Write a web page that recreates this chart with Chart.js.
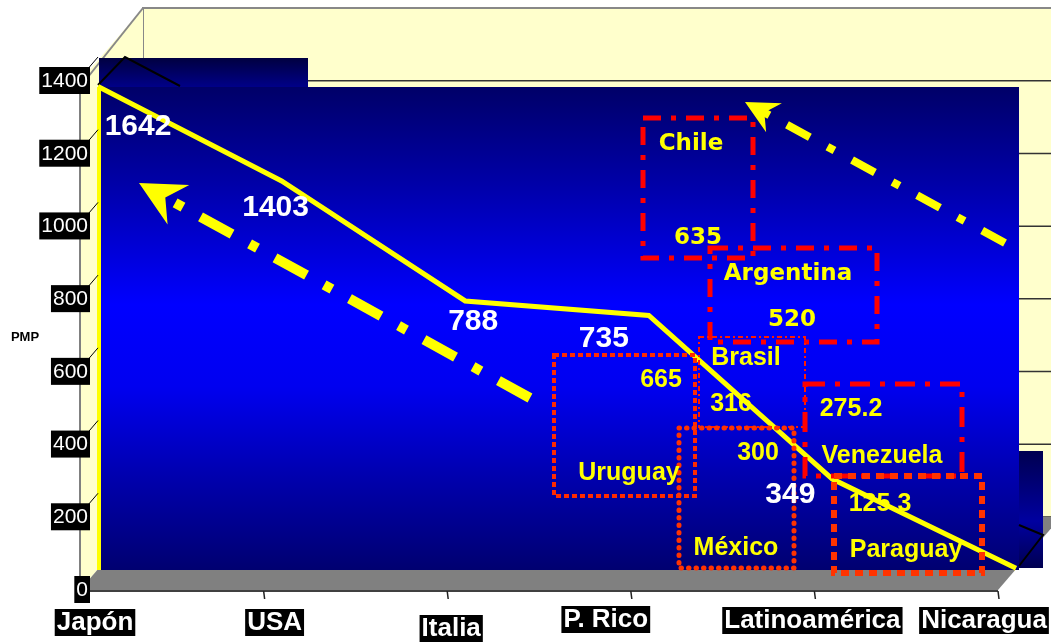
<!DOCTYPE html>
<html>
<head>
<meta charset="utf-8">
<script src="https://cdn.jsdelivr.net/npm/chart.js@4/dist/chart.umd.min.js"></script>
<style>
  body { margin: 0; background: #fff; }
  canvas { display: block; }
</style>
</head>
<body>
<canvas id="chart-pmp" width="1051" height="643"></canvas>
<script>
// data
const categories = ['Japón', 'USA', 'Italia', 'P. Rico', 'Latinoamérica', 'Nicaragua'];
const pmpValues = [1330, 1070, 740, 700, 250, 5];
const pmpLabels = ['1642', '1403', '788', '735', '349', ''];
const yTicks = [0, 200, 400, 600, 800, 1000, 1200, 1400];
const countries = ['Chile', 'Argentina', 'Brasil', 'Uruguay', 'México', 'Venezuela', 'Paraguay'];
const countryValues = ['635', '520', '316', '665', '300', '275.2', '125.3'];

// layout (pixels)
const BACK = { dx: 63, dy: -73 };      // depth of the 3d box
const PLANE = { dx: 18, dy: -20 };     // plane where the line sits
const labelOffsets = [[40, 40], [-6, 27], [8, 21], [-45, 23], [-42, 16], [0, 0]];
const xLabelShift = [15, 11, 4, -25, -2, -14];
const xLabelY = [622, 622, 628, 619, 620, 620];

const TAHOMA = 'bold 23px "DejaVu Sans"';
const ARIAL = 'bold 25px "Liberation Sans", Arial';
const boxes = [
	{ r: [643, 118, 753, 258], w: 5, dash: [18, 10, 5, 10], c: '#ff0000', f: TAHOMA, n: [691, 144], v: [698, 238] },
	{ r: [710, 248, 877, 342], w: 5, dash: [18, 10, 5, 10], c: '#ff0000', f: TAHOMA, n: [788, 274], v: [792, 320] },
	{ r: [699, 337, 805, 427], w: 2, dash: [5, 3, 2, 3], c: '#ff1a00', f: ARIAL, n: [746, 358], v: [731, 404] },
	{ r: [554, 355, 695, 496], w: 4, dash: [5, 3], c: '#ff2a00', f: ARIAL, n: [629, 473], v: [661, 380] },
	{ r: [679, 428, 794, 568], w: 5, dash: [0.5, 7], cap: 'round', c: '#ff3300', f: ARIAL, n: [736, 548], v: [758, 453] },
	{ r: [805, 384, 962, 476], w: 5, dash: [20, 10, 5, 10], c: '#ff0000', f: ARIAL, n: [882, 456], v: [851, 409] },
	{ r: [834, 476, 982, 573], w: 6, dash: [8, 6], c: '#ff3300', f: ARIAL, n: [906, 550], v: [880, 504] },
];
const arrows = [
	{ tail: [530, 398], tip: [139, 183], w: 10, dash: [36, 20, 9, 20], head: 45, notch: 30, half: 22.5 },
	{ tail: [1005, 243], tip: [745, 102], w: 8, dash: [26, 20, 8, 20], head: 33, notch: 22, half: 16.5 },
];

function labelBox(ctx, text, x, y, font, align) {
	ctx.font = font;
	let w = ctx.measureText(text).width;
	let left = align === 'right' ? x - w : x - w / 2;
	ctx.fillStyle = '#000';
	ctx.fillRect(left - 2, y - 13, w + 4, 27);
	ctx.fillStyle = '#fff';
	ctx.textAlign = 'left';
	ctx.textBaseline = 'middle';
	ctx.fillText(text, left, y + 1);
}

function drawArrow(ctx, a) {
	let [tx, ty] = a.tail, [px, py] = a.tip;
	let len = Math.hypot(px - tx, py - ty);
	let ux = (px - tx) / len, uy = (py - ty) / len;
	let nx = -uy, ny = ux;
	ctx.save();
	ctx.strokeStyle = '#ffff00';
	ctx.lineWidth = a.w;
	ctx.setLineDash(a.dash);
	ctx.beginPath();
	ctx.moveTo(tx, ty);
	ctx.lineTo(px - ux * (a.notch - 4), py - uy * (a.notch - 4));
	ctx.stroke();
	ctx.setLineDash([]);
	ctx.fillStyle = '#ffff00';
	ctx.beginPath();
	ctx.moveTo(px, py);
	ctx.lineTo(px - ux * a.head + nx * a.half, py - uy * a.head + ny * a.half);
	ctx.lineTo(px - ux * a.notch, py - uy * a.notch);
	ctx.lineTo(px - ux * a.head - nx * a.half, py - uy * a.head - ny * a.half);
	ctx.closePath();
	ctx.fill();
	ctx.restore();
}

const box3d = {
	id: 'box3d',
	beforeDraw(chart) {
		const ctx = chart.ctx;
		const { left: L, right: R, top: T, bottom: B } = chart.chartArea;
		const y = chart.scales.y, x = chart.scales.x;
		ctx.save();
		ctx.fillStyle = '#fff';
		ctx.fillRect(0, 0, chart.width, chart.height);

		// back wall
		ctx.fillStyle = '#ffffcc';
		ctx.fillRect(L + BACK.dx, T + BACK.dy, R - L, B - T);
		ctx.strokeStyle = '#333';
		ctx.lineWidth = 1.5;
		yTicks.forEach(v => {
			let py = y.getPixelForValue(v) + BACK.dy;
			ctx.beginPath();
			ctx.moveTo(L + BACK.dx, py);
			ctx.lineTo(R + BACK.dx, py);
			ctx.stroke();
		});
		ctx.strokeStyle = '#888';
		ctx.lineWidth = 2;
		ctx.beginPath();
		ctx.moveTo(R + BACK.dx, T + BACK.dy);
		ctx.lineTo(L + BACK.dx, T + BACK.dy);
		ctx.lineTo(L + BACK.dx, B + BACK.dy);
		ctx.stroke();

		// side wall
		ctx.fillStyle = '#ffffcc';
		ctx.beginPath();
		ctx.moveTo(L, B);
		ctx.lineTo(L, T);
		ctx.lineTo(L + BACK.dx, T + BACK.dy);
		ctx.lineTo(L + BACK.dx, B + BACK.dy);
		ctx.closePath();
		ctx.fill();
		ctx.beginPath();
		ctx.moveTo(L, T + 6);
		ctx.lineTo(L + BACK.dx, T + BACK.dy);
		ctx.stroke();

		// floor
		ctx.fillStyle = '#808080';
		ctx.beginPath();
		ctx.moveTo(L, B);
		ctx.lineTo(R, B);
		ctx.lineTo(R + BACK.dx, B + BACK.dy);
		ctx.lineTo(L + BACK.dx, B + BACK.dy);
		ctx.closePath();
		ctx.fill();

		// blue panel
		let bx = L + PLANE.dx - 1, by = T + 6, bw = R + PLANE.dx + 3 - bx, bh = B + PLANE.dy - by;
		let g = ctx.createLinearGradient(0, by, 0, by + bh);
		g.addColorStop(0, '#000068');
		g.addColorStop(0.2, '#0000a8');
		g.addColorStop(0.45, '#0000ff');
		g.addColorStop(0.62, '#0000f0');
		g.addColorStop(0.8, '#0000b0');
		g.addColorStop(1, '#000070');
		ctx.fillStyle = g;
		ctx.fillRect(bx, by, bw, bh);
		let g2 = ctx.createLinearGradient(0, 58, 0, by);
		g2.addColorStop(0, '#000040');
		g2.addColorStop(1, '#000088');
		ctx.fillStyle = g2;
		ctx.fillRect(bx + 2, 58, 209, by - 58);
		let g3 = ctx.createLinearGradient(0, 451, 0, 568);
		g3.addColorStop(0, '#000050');
		g3.addColorStop(0.6, '#0000a0');
		g3.addColorStop(1, '#000050');
		ctx.fillStyle = g3;
		ctx.fillRect(bx + bw, 451, 24, 117);
		ctx.strokeStyle = '#000';
		ctx.lineWidth = 2;
		ctx.beginPath();
		ctx.moveTo(bx + 1, by - 2);
		ctx.lineTo(125, 57);
		ctx.lineTo(180, by - 1);
		ctx.moveTo(bx + bw, 525);
		ctx.lineTo(bx + bw + 24, 535);
		ctx.lineTo(bx + bw, 566);
		ctx.stroke();
		ctx.fillStyle = '#ffff00';
		ctx.fillRect(bx, by, 4, bh);

		// floor front edge + front axis
		ctx.strokeStyle = '#000';
		ctx.lineWidth = 1.5;
		ctx.beginPath();
		ctx.moveTo(L, B + 1);
		ctx.lineTo(R, B + 1);
		ctx.stroke();
		ctx.strokeStyle = '#808080';
		ctx.lineWidth = 2;
		ctx.beginPath();
		ctx.moveTo(L, T);
		ctx.lineTo(L, B + 10);
		ctx.stroke();
		ctx.strokeStyle = '#222';
		ctx.lineWidth = 1.5;
		x.ticks.forEach((t, i) => {
			let px = x.getPixelForTick(i);
			ctx.beginPath();
			ctx.moveTo(px, B + 1);
			ctx.lineTo(px + 1, B + 9);
			ctx.stroke();
		});

		// y axis labels
		yTicks.forEach(v => {
			let py = y.getPixelForValue(v);
			if (v > 0) {
				ctx.strokeStyle = '#000';
				ctx.lineWidth = 1;
				ctx.beginPath();
				ctx.moveTo(L + 6, py - 10);
				ctx.lineTo(L + PLANE.dx, py - 24);
				ctx.stroke();
			}
			labelBox(ctx, String(v), L + 8, py - 1, '21px "Liberation Sans", Arial', 'right');
		});

		// x axis labels
		categories.forEach((c, i) => {
			labelBox(ctx, c, x.getPixelForTick(i) + xLabelShift[i], xLabelY[i], 'bold 26px "Liberation Sans", Arial', 'center');
		});

		ctx.fillStyle = '#000';
		ctx.font = 'bold 13px "Liberation Sans", Arial';
		ctx.textAlign = 'center';
		ctx.textBaseline = 'middle';
		ctx.fillText('PMP', 25, 337);
		ctx.restore();
	},
	beforeDatasetsDraw(chart) {
		chart.ctx.save();
		chart.ctx.translate(PLANE.dx, PLANE.dy);
	},
	afterDatasetsDraw(chart) {
		const ctx = chart.ctx;
		ctx.restore();
		ctx.save();

		// dashed arrows
		arrows.forEach(a => drawArrow(ctx, a));

		// country boxes
		boxes.forEach(b => {
			ctx.strokeStyle = b.c;
			ctx.lineWidth = b.w;
			ctx.lineCap = b.cap || 'butt';
			ctx.setLineDash(b.dash);
			ctx.strokeRect(b.r[0], b.r[1], b.r[2] - b.r[0], b.r[3] - b.r[1]);
		});
		ctx.setLineDash([]);
		ctx.fillStyle = '#ffff00';
		ctx.textAlign = 'center';
		ctx.textBaseline = 'middle';
		boxes.forEach((b, i) => {
			ctx.font = b.f;
			ctx.fillText(countries[i], b.n[0], b.n[1]);
			ctx.fillText(countryValues[i], b.v[0], b.v[1]);
		});

		// pmp value labels
		const meta = chart.getDatasetMeta(0);
		ctx.fillStyle = '#fff';
		ctx.font = 'bold 30px "Liberation Sans", Arial';
		meta.data.forEach((pt, i) => {
			if (!pmpLabels[i]) return;
			ctx.fillText(pmpLabels[i], pt.x + PLANE.dx + labelOffsets[i][0], pt.y + PLANE.dy + labelOffsets[i][1]);
		});
		ctx.restore();
	}
};

new Chart(document.getElementById('chart-pmp'), {
	type: 'line',
	data: {
		labels: categories,
		datasets: [{
			label: 'PMP',
			data: pmpValues,
			borderColor: '#ffff00',
			borderWidth: 5,
			pointRadius: 0,
			tension: 0,
			clip: false,
		}]
	},
	options: {
		responsive: false,
		animation: false,
		layout: { padding: { left: 80, right: 53, top: 81, bottom: 53 } },
		plugins: { legend: { display: false }, tooltip: { enabled: false } },
		scales: {
			x: { display: false, offset: false },
			y: { display: false, min: 0, max: 1400 },
		},
	},
	plugins: [box3d],
});
</script>
</body>
</html>
